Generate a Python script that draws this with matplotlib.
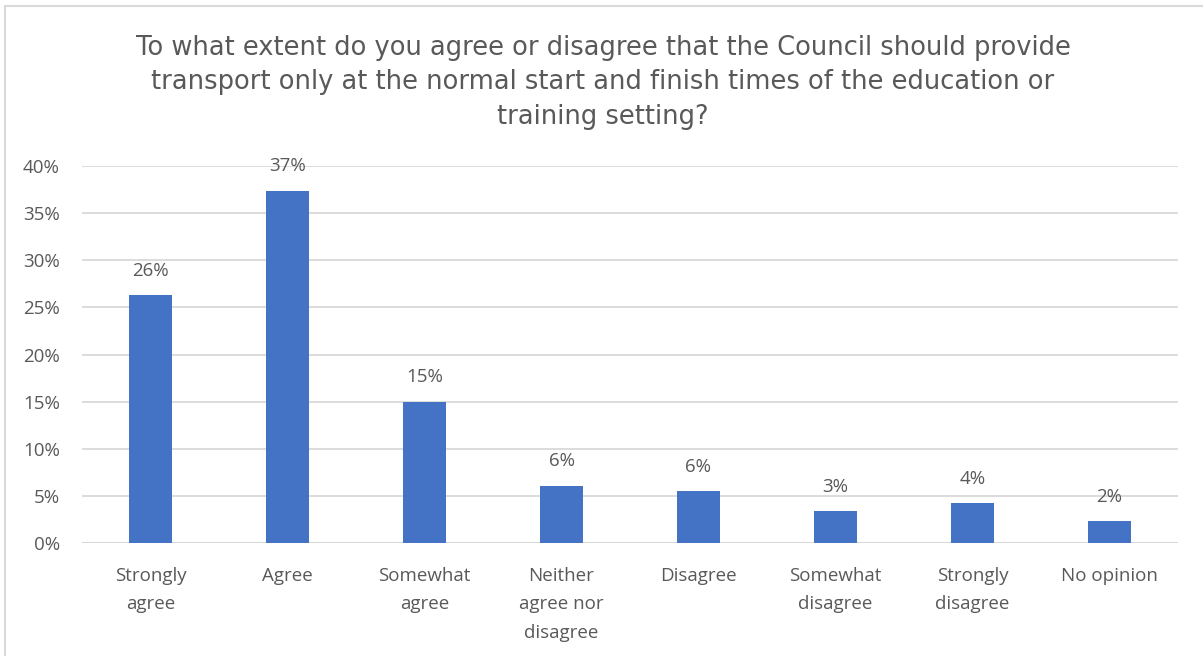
import matplotlib
matplotlib.use("Agg")
import matplotlib.pyplot as plt
from matplotlib.ticker import PercentFormatter, MultipleLocator
from matplotlib.patches import Rectangle

categories = ["Strongly\nagree", "Agree", "Somewhat\nagree", "Neither\nagree nor\ndisagree",
              "Disagree", "Somewhat\ndisagree", "Strongly\ndisagree", "No opinion"]
shares = [26.3, 37.4, 15.0, 6.1, 5.5, 3.4, 4.2, 2.3]
title = ("To what extent do you agree or disagree that the Council should provide\n"
         "transport only at the normal start and finish times of the education or\n"
         "training setting?")

TEXT = "#595959"
GRID = "#d9d9d9"
BAR = "#4472c4"
FONT = "Open Sans"

fig = plt.figure(figsize=(12.03, 6.56), dpi=100)
ax = fig.add_axes([82 / 1203, 1 - 543 / 656, 1096 / 1203, 377 / 656])

x = range(len(categories))
bars = ax.bar(x, shares, width=0.32, color=BAR, zorder=3)
for b, v in zip(bars, shares):
    ax.annotate(f"{v:.0f}%", (b.get_x() + b.get_width() / 2, v),
                xytext=(0, 11), textcoords="offset points",
                ha="center", va="bottom", fontsize=13.5, color=TEXT,
                family=FONT)

ax.set_xlim(-0.5, len(categories) - 0.5)
ax.set_ylim(0, 40)
ax.yaxis.set_major_locator(MultipleLocator(5))
ax.yaxis.set_major_formatter(PercentFormatter(decimals=0))
ax.grid(axis="y", color=GRID, linewidth=1.3, zorder=0)
for s in ax.spines.values():
    s.set_visible(False)
ax.axhline(0, color=GRID, linewidth=1.5, zorder=2)
ax.set_xticks(list(x))
ax.set_xticklabels(categories, linespacing=1.75)
ax.tick_params(axis="both", length=0, colors=TEXT, labelsize=13.5)
ax.tick_params(axis="y", pad=16)
ax.tick_params(axis="x", pad=17)
for lab in ax.get_xticklabels() + ax.get_yticklabels():
    lab.set_family(FONT)
    lab.set_color(TEXT)

fig.text(603 / 1203, 1 - 35 / 656, title, ha="center", va="top",
         fontsize=18.5, color=TEXT, family="DejaVu Sans", linespacing=1.42)

# chart-area border
fig.patches.append(Rectangle((5 / 1203, -0.05), 1.1, 1 - 6 / 656 + 0.05,
                             transform=fig.transFigure, fill=False,
                             edgecolor="#d9d9d9", linewidth=1.5))

fig.savefig("out.png", dpi=100, facecolor="white")
